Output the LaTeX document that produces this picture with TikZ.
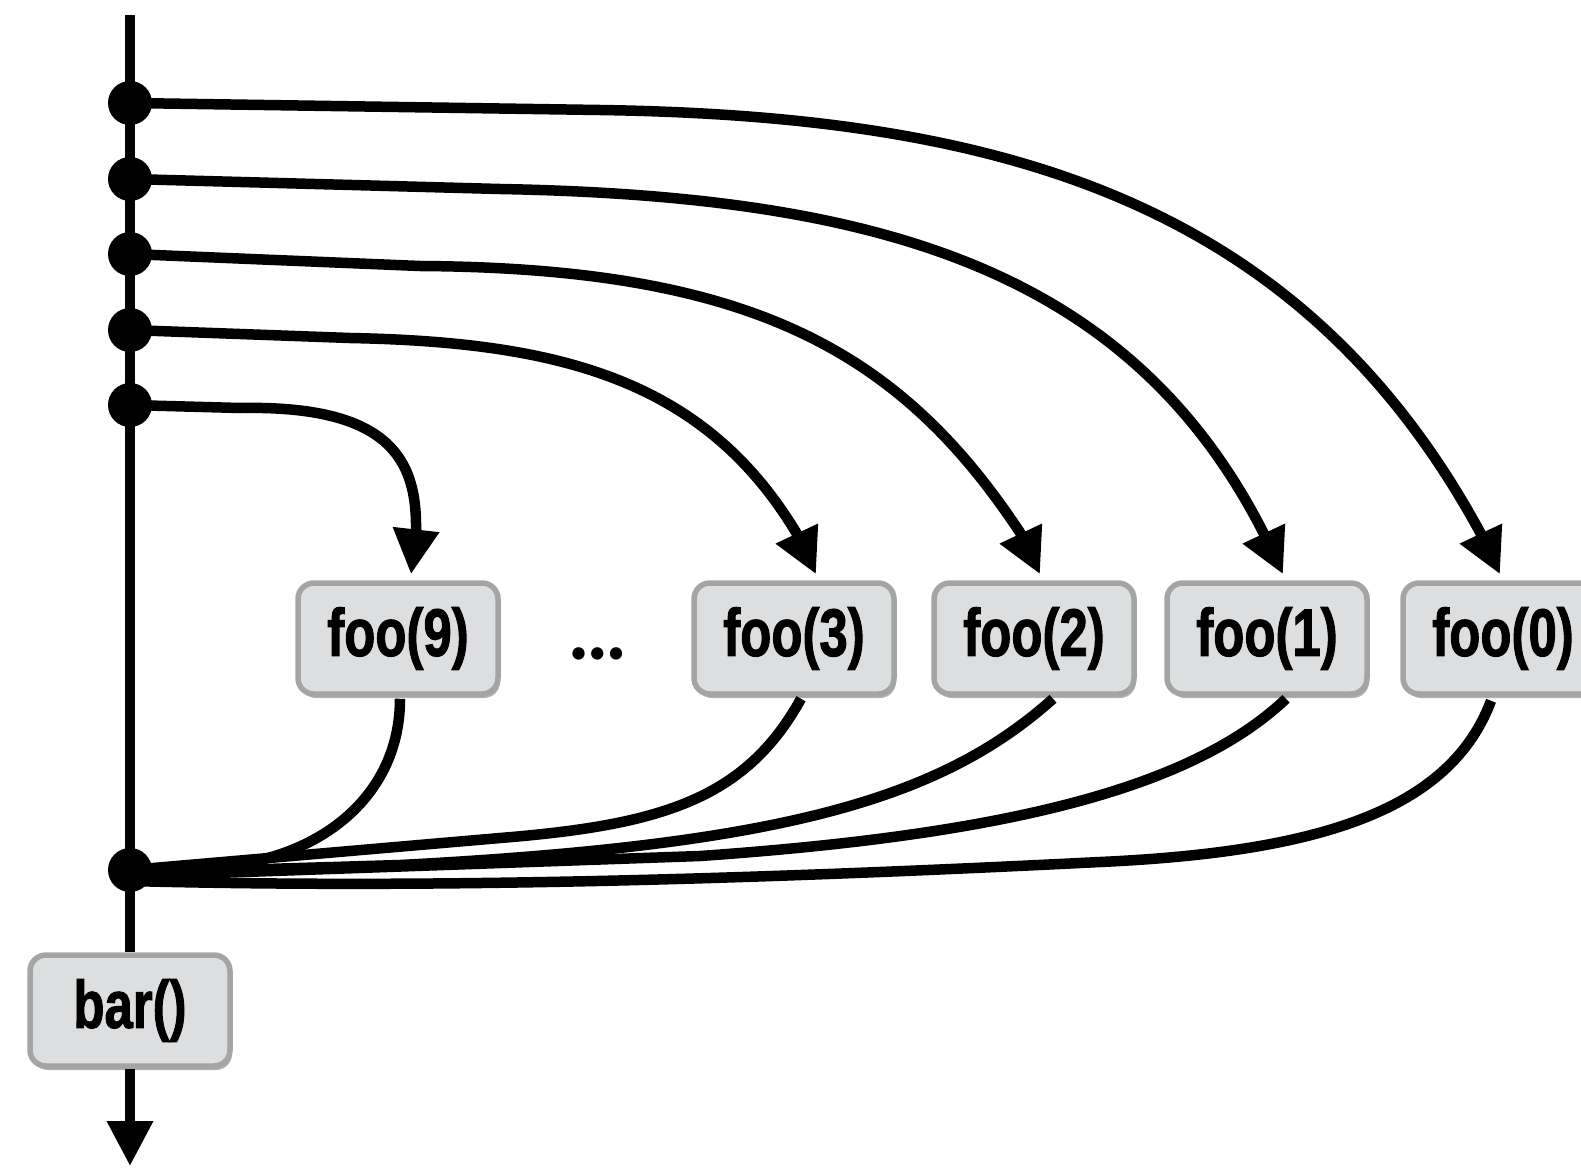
\documentclass[tikz,border=0pt]{standalone}
\usepackage{fontspec}
\setmainfont{Liberation Sans}
\newfontfamily\boxfont{Liberation Sans}[BoldFeatures={FakeBold=1.8}]
\newfontfamily\dotfont{Poppins}
\usepackage{graphicx}
\usetikzlibrary{arrows.meta,shadows,calc}
\definecolor{boxfill}{HTML}{DDDEE0}
\definecolor{boxline}{HTML}{A3A5A5}
\tikzset{
  fn/.style={draw=boxline, line width=5.5pt, fill=boxfill, rounded corners=16pt,
    minimum width=200pt, minimum height=111pt, inner sep=0pt,
    drop shadow={shadow xshift=2pt, shadow yshift=-4pt, opacity=0.3, fill=black},
    font=\boxfont\bfseries\fontsize{67}{67}\selectfont},
  dot/.style={circle, fill=black, minimum size=44pt, inner sep=0pt},
  wire/.style={line width=10.5pt, black},
  arr/.style={wire, -{Triangle[width=44pt,length=45pt]}},
}
\newcommand{\fnt}[1]{\scalebox{0.76}[1]{#1}}
\begin{document}
\begin{tikzpicture}[x=1pt,y=-1pt]
\path[use as bounding box] (0,0) rectangle (1581,1167);
\clip (0,0) rectangle (1581,1167);
\fill[white] (0,0) rectangle (1581,1167);
% dots
\node[dot] (d1) at (130,103) {};
\node[dot] (d2) at (130,179) {};
\node[dot] (d3) at (130,254) {};
\node[dot] (d4) at (130,330) {};
\node[dot] (d5) at (130,405) {};
\node[dot] (d6) at (130,870) {};
% boxes
\node[fn] (foo9) at (398,638.5) {\fnt{foo(9)}};
\node[fn] (foo3) at (794,638.5) {\fnt{foo(3)}};
\node[fn] (foo2) at (1034,638.5) {\fnt{foo(2)}};
\node[fn] (foo1) at (1267,638.5) {\fnt{foo(1)}};
\node[fn] (foo0) at (1503,638.5) {\fnt{foo(0)}};
\node[fn] (bar) at (130,1010.5) {\fnt{bar()}};
\node[font=\dotfont\fontsize{100}{100}\selectfont] (ell) at (598,654) {…};
% main timeline
\coordinate (top) at (130,15);
\coordinate (bottom) at (130,1166);
\draw[wire,line width=10pt] (top) -- (bar.north);
\draw[arr,line width=10pt] (bar.south) -- (bottom);
% spawn arrows
\draw[arr] (d1.center) -- (600,110) .. controls (1000,116) and (1300,200) .. (1481,534) -- ([xshift=-3pt,yshift=6pt]foo0.north);
\draw[arr] (d2.center) -- (500,189) .. controls (880,196) and (1130,270) .. (1264,534) -- ([xshift=16pt,yshift=6pt]foo1.north);
\draw[arr] (d3.center) -- (420,266) .. controls (750,268) and (900,350) .. (1021,534) -- ([xshift=6pt,yshift=6pt]foo2.north);
\draw[arr] (d4.center) -- (350,338) .. controls (560,342) and (705,380) .. (797,534) -- ([xshift=22pt,yshift=6pt]foo3.north);
\draw[arr] (d5.center) -- (240,408) .. controls (390,405) and (417,460) .. (416,530) -- ([xshift=13pt,yshift=6pt]foo9.north);
% sync lines
\draw[wire] ([xshift=2pt,yshift=-2pt]foo9.south) .. controls (400,790) and (330,850) .. (240,864) -- (d6.center);
\draw[wire] ([xshift=7pt,yshift=-2pt]foo3.south) .. controls (745,800) and (660,825) .. (500,838) -- (d6.center);
\draw[wire] ([xshift=19pt,yshift=-2pt]foo2.south) .. controls (940,800) and (780,845) .. (400,865) -- ([yshift=-3pt]d6.center);
\draw[wire] ([xshift=19pt,yshift=-2pt]foo1.south) .. controls (1190,790) and (1000,835) .. (700,856) -- ([yshift=-6pt]d6.center);
\draw[wire] ([xshift=-12pt,yshift=-4pt]foo0.south) .. controls (1450,810) and (1320,852) .. (1100,862) .. controls (700,882) and (400,888) .. ([yshift=-11pt]d6.center);
\end{tikzpicture}
\end{document}
